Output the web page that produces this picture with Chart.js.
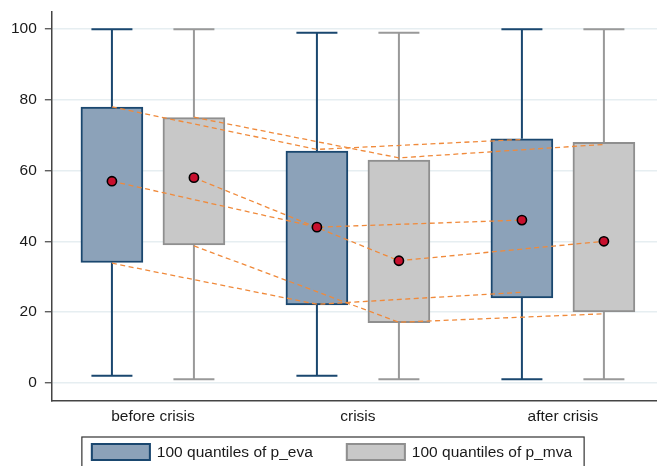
<!DOCTYPE html>
<html>
<head>
<meta charset="utf-8">
<script src="https://cdn.jsdelivr.net/npm/chart.js@4.4.1/dist/chart.umd.min.js"></script>
<style>
  html, body { margin: 0; padding: 0; background: #ffffff; }
  #c { display: block; }
</style>
</head>
<body>
<canvas id="c" width="657" height="466" style="width:657px;height:466px"></canvas>
<script>
// Periods on the x axis
const periods = ['before crisis', 'crisis', 'after crisis'];
const seriesNames = ['100 quantiles of p_eva', '100 quantiles of p_mva'];
const yTicks = [0, 20, 40, 60, 80, 100];

// Box statistics for p_eva
const evaMin = [2, 2, 1];
const evaQ1 = [34, 22, 24];
const evaMedian = [57, 44, 46];
const evaQ3 = [78, 65.5, 69];
const evaMax = [100, 99, 100];

// Box statistics for p_mva
const mvaMin = [1, 1, 1];
const mvaQ1 = [39, 17, 20];
const mvaMedian = [58, 34.5, 40];
const mvaQ3 = [75, 63, 68];
const mvaMax = [100, 99, 100];

// Quartile values joined by the dashed trend lines
const linkEvaQ1 = [33.8, 22.2, 25.6];
const linkEvaQ3 = [78, 66, 68.8];
const linkMvaQ1 = [38.7, 17.1, 19.5];
const linkMvaQ3 = [75.1, 63.6, 67.4];

const FONT = '"Liberation Sans", Arial, Helvetica, sans-serif';
const EVA_FILL = '#8ca2b9', EVA_LINE = '#1a476f';
const MVA_FILL = '#c8c8c8', MVA_LINE = '#8f8f8f', MVA_WHISKER = '#999999';
const TREND = '#f08a3b';
const SHIFT = 0.2; // horizontal offset of each box from its period centre

const groups = [
  { shift: -SHIFT, min: evaMin, q1: evaQ1, med: evaMedian, q3: evaQ3, max: evaMax, stroke: EVA_LINE, whisker: EVA_LINE, fill: EVA_FILL },
  { shift: SHIFT, min: mvaMin, q1: mvaQ1, med: mvaMedian, q3: mvaQ3, max: mvaMax, stroke: MVA_LINE, whisker: MVA_WHISKER, fill: MVA_FILL }
];

const pts = (shift, vals) => vals.map((v, i) => ({ x: i + 1 + shift, y: v }));

// Whiskers and caps, placed with the chart's own scales
const whiskers = {
  id: 'whiskers',
  beforeDatasetsDraw(chart) {
    const { ctx, scales: { x, y } } = chart;
    const capHalf = 20.5;
    ctx.save();
    ctx.lineCap = 'butt';
    groups.forEach(g => {
      ctx.strokeStyle = g.whisker;
      ctx.lineWidth = 2;
      periods.forEach((p, i) => {
        const px = x.getPixelForValue(i + 1 + g.shift);
        const yMax = y.getPixelForValue(g.max[i]);
        const yQ3 = y.getPixelForValue(g.q3[i]);
        const yQ1 = y.getPixelForValue(g.q1[i]);
        const yMin = y.getPixelForValue(g.min[i]);
        ctx.beginPath();
        ctx.moveTo(px, yMax); ctx.lineTo(px, yQ3);
        ctx.moveTo(px, yQ1); ctx.lineTo(px, yMin);
        ctx.moveTo(px - capHalf, yMax); ctx.lineTo(px + capHalf, yMax);
        ctx.moveTo(px - capHalf, yMin); ctx.lineTo(px + capHalf, yMin);
        ctx.stroke();
      });
    });
    ctx.restore();
  }
};

// Framed legend below the axis
const framedLegend = {
  id: 'framedLegend',
  afterDraw(chart) {
    const ctx = chart.ctx;
    ctx.save();
    ctx.font = '15.5px ' + FONT;
    const sw = 60, sh = 18, gap = 6, itemGap = 33;
    const widths = seriesNames.map(t => ctx.measureText(t).width);
    const total = seriesNames.length * (sw + gap) + widths.reduce((a, b) => a + b, 0) + itemGap * (seriesNames.length - 1);
    let x = chart.width / 2 + 3 - total / 2;
    const top = chart.height - 23;
    ctx.strokeStyle = '#333333';
    ctx.lineWidth = 1.2;
    ctx.strokeRect(x - 9, top - 6, total + 21, 40);
    seriesNames.forEach((t, i) => {
      const g = groups[i];
      ctx.fillStyle = g.fill;
      ctx.fillRect(x, top, sw, sh);
      ctx.strokeStyle = g.stroke;
      ctx.lineWidth = 2;
      ctx.strokeRect(x + 1, top + 1, sw - 2, sh - 2);
      ctx.fillStyle = '#1a1a1a';
      ctx.textBaseline = 'middle';
      ctx.textAlign = 'left';
      ctx.fillText(t, x + sw + gap, top + sh / 2 + 1);
      x += sw + gap + widths[i] + itemGap;
    });
    ctx.restore();
  }
};

// Axes keep the plot area flush with the layout padding
const noOverflow = ax => { ax.paddingLeft = 0; ax.paddingRight = 0; ax.paddingTop = 0; ax.paddingBottom = 0; };

const boxDataset = (g, label) => ({
  type: 'bar',
  label,
  data: periods.map((p, i) => ({ x: i + 1 + g.shift, y: [g.q1[i], g.q3[i]] })),
  backgroundColor: g.fill,
  borderColor: g.stroke,
  borderWidth: 2,
  borderSkipped: false,
  grouped: false,
  barThickness: 62,
  order: 3
});

const trendDataset = (shift, vals) => ({
  type: 'line',
  data: pts(shift, vals),
  borderColor: TREND,
  borderWidth: 1.3,
  borderDash: [5, 3.5],
  pointRadius: 0,
  fill: false,
  tension: 0,
  order: 2
});

const medianDots = (shift, vals) => ({
  type: 'line',
  data: pts(shift, vals),
  showLine: false,
  pointRadius: 4.6,
  pointBackgroundColor: '#c8102e',
  pointBorderColor: '#000000',
  pointBorderWidth: 1.6,
  order: 1
});

new Chart(document.getElementById('c'), {
  type: 'bar',
  data: {
    datasets: [
      boxDataset(groups[0], seriesNames[0]),
      boxDataset(groups[1], seriesNames[1]),
      trendDataset(-SHIFT, linkEvaQ3),
      trendDataset(SHIFT, linkMvaQ3),
      trendDataset(-SHIFT, evaMedian),
      trendDataset(SHIFT, mvaMedian),
      trendDataset(-SHIFT, linkEvaQ1),
      trendDataset(SHIFT, linkMvaQ1),
      medianDots(-SHIFT, evaMedian),
      medianDots(SHIFT, mvaMedian)
    ]
  },
  options: {
    responsive: false,
    animation: false,
    events: [],
    layout: { autoPadding: false, padding: { left: 3, right: 0, top: 11.5, bottom: 33 } },
    plugins: { legend: { display: false }, tooltip: { enabled: false } },
    scales: {
      x: {
        type: 'linear',
        min: 0.507,
        max: 3.459,
        offset: false,
        grid: { display: false, drawTicks: false, offset: false },
        border: { display: true, color: '#444444', width: 1.5 },
        afterBuildTicks: ax => { ax.ticks = periods.map((p, i) => ({ value: i + 1 })); },
        afterFit: noOverflow,
        ticks: {
          callback: v => periods[Math.round(v) - 1] ?? '',
          padding: 7,
          autoSkip: false,
          maxRotation: 0,
          color: '#1a1a1a',
          font: { family: FONT, size: 15.5 }
        }
      },
      y: {
        min: -5,
        max: 105,
        afterBuildTicks: ax => { ax.ticks = yTicks.map(v => ({ value: v })); },
        afterFit: noOverflow,
        grid: { color: '#e6eef1', lineWidth: 1.5, tickColor: '#444444', tickLength: 7, tickWidth: 1.2 },
        border: { display: true, color: '#444444', width: 1.5 },
        ticks: {
          padding: 8,
          color: '#1a1a1a',
          font: { family: FONT, size: 15.5 }
        }
      }
    }
  },
  plugins: [whiskers, framedLegend]
});
</script>
</body>
</html>
